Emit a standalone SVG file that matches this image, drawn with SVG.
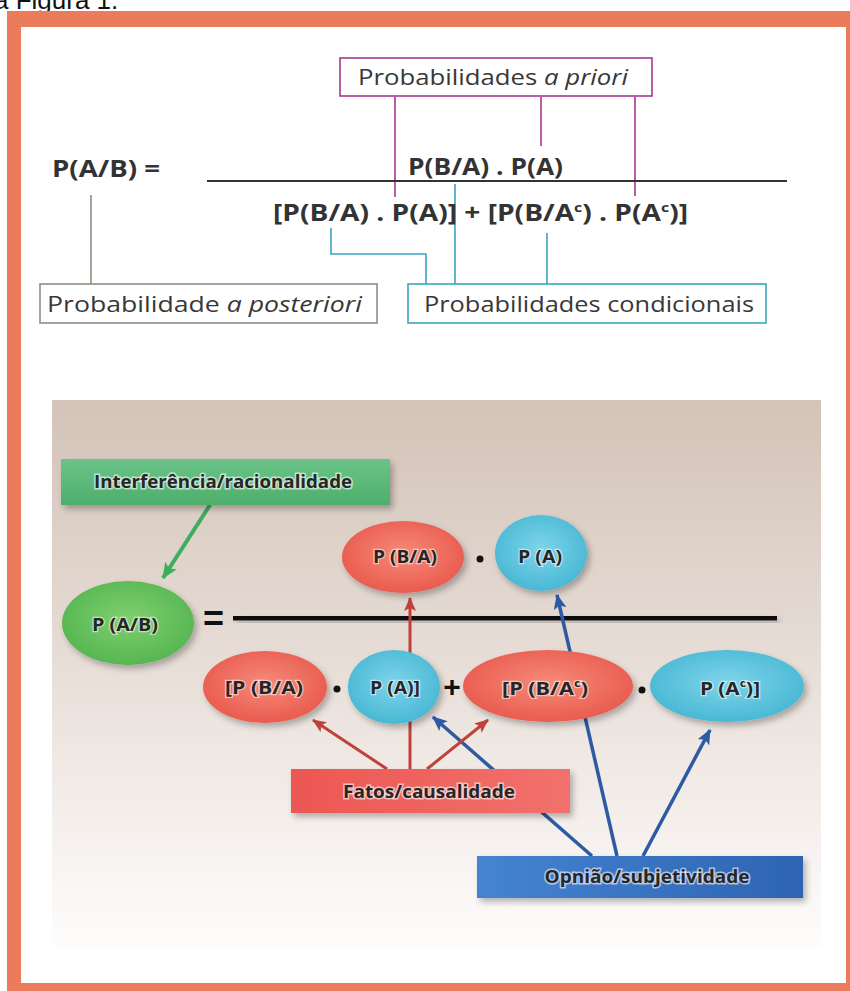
<svg xmlns="http://www.w3.org/2000/svg" width="850" height="991" viewBox="0 0 850 991">
<defs>
<style>
.hdr{font-family:"Liberation Sans",Arial,sans-serif;font-size:26px;fill:#111}
.lbl{font-family:"Open Sans","Noto Sans",sans-serif;font-size:22px;fill:#383838}
.frm{font-family:"Open Sans","Noto Sans",sans-serif;font-size:23px;font-weight:bold;fill:#333}
.it{font-style:italic}
.sup{font-size:13px}
.nt{font-family:"Open Sans","Noto Sans",sans-serif;font-weight:bold;font-size:18px;fill:#262626;stroke:#fff;stroke-width:2.5px;stroke-opacity:0.55;paint-order:stroke;text-anchor:middle}
.bt{font-family:"Open Sans","Noto Sans",sans-serif;font-weight:bold;font-size:18px;fill:#262626;stroke:#fff;stroke-width:3px;stroke-opacity:0.6;paint-order:stroke;text-anchor:middle}
.op{font-family:"Liberation Sans",Arial,sans-serif;font-weight:bold;fill:#111;text-anchor:middle}
.mag{fill:none;stroke:#A4378F;stroke-width:1.6}
.cya{fill:none;stroke:#3AA5C0;stroke-width:1.6}
.gry{fill:none;stroke:#8E8E80;stroke-width:1.6}
.ar-r{fill:none;stroke:#BE4239;stroke-width:3}
.ar-b{fill:none;stroke:#2D5AA5;stroke-width:3.5}
.ar-g{fill:none;stroke:#3CAE5C;stroke-width:4}
.red{fill:url(#gRed);filter:url(#sh)}
.cyn{fill:url(#gCyan);filter:url(#sh)}
.grn{fill:url(#gGreen);filter:url(#sh)}
</style>
<linearGradient id="gPanel" x1="0" y1="0" x2="0" y2="1">
<stop offset="0" stop-color="#D3C3B8"/>
<stop offset="0.45" stop-color="#E6DCD5"/>
<stop offset="0.8" stop-color="#F6F1EE"/>
<stop offset="1" stop-color="#FEFDFC"/>
</linearGradient>
<radialGradient id="gRed" cx="0.5" cy="0.45" r="0.6">
<stop offset="0" stop-color="#F68A79"/>
<stop offset="1" stop-color="#E8574B"/>
</radialGradient>
<radialGradient id="gCyan" cx="0.5" cy="0.45" r="0.6">
<stop offset="0" stop-color="#7DD5EA"/>
<stop offset="1" stop-color="#45B5D2"/>
</radialGradient>
<radialGradient id="gGreen" cx="0.5" cy="0.45" r="0.6">
<stop offset="0" stop-color="#80CF70"/>
<stop offset="1" stop-color="#52B44E"/>
</radialGradient>
<linearGradient id="gGBox" x1="0" y1="0" x2="0" y2="1">
<stop offset="0" stop-color="#6AC489"/>
<stop offset="1" stop-color="#4FAE6B"/>
</linearGradient>
<linearGradient id="gRBox" x1="0" y1="0" x2="1" y2="0">
<stop offset="0" stop-color="#EC5753"/>
<stop offset="1" stop-color="#F2716C"/>
</linearGradient>
<linearGradient id="gBBox" x1="0" y1="0" x2="1" y2="0">
<stop offset="0" stop-color="#4584D1"/>
<stop offset="1" stop-color="#2D64B4"/>
</linearGradient>
<filter id="sh" x="-20%" y="-20%" width="150%" height="160%">
<feDropShadow dx="3" dy="4" stdDeviation="3" flood-color="#000" flood-opacity="0.28"/>
</filter>
<marker id="mR" viewBox="0 0 14 12" markerWidth="14" markerHeight="12" refX="13" refY="6" orient="auto" markerUnits="userSpaceOnUse">
<path d="M0,0 L14,6 L0,12 L3,6 z" fill="#BE4239"/>
</marker>
<marker id="mB" viewBox="0 0 14 12" markerWidth="15" markerHeight="13" refX="13" refY="6" orient="auto" markerUnits="userSpaceOnUse">
<path d="M0,0 L14,6 L0,12 L3,6 z" fill="#2D5AA5"/>
</marker>
<marker id="mG" viewBox="0 0 14 12" markerWidth="16" markerHeight="14" refX="13" refY="6" orient="auto" markerUnits="userSpaceOnUse">
<path d="M0,0 L14,6 L0,12 L3,6 z" fill="#3CAE5C"/>
</marker>
</defs>

<rect width="850" height="991" fill="#fff"/>
<text class="hdr" x="-6" y="9">à Figura 1.</text>
<rect x="7" y="11" width="843" height="980" fill="#EC7B5C"/>
<rect x="21" y="27" width="825" height="956" fill="#FFFFFF"/>

<rect x="52" y="400" width="769" height="548" fill="url(#gPanel)"/>
<rect x="233" y="616" width="544" height="4.5" fill="#111" filter="url(#sh)"/>
<text class="op" x="213.5" y="631" font-size="36">=</text>
<text class="op" x="452" y="697" font-size="30">+</text>
<circle cx="480" cy="559" r="3.5" fill="#111"/>
<circle cx="337" cy="689" r="3.5" fill="#111"/>
<circle cx="642" cy="690" r="3.5" fill="#111"/>

<g id="connectors">
<path class="mag" d="M395,97 V197 M541,97 V146 M635,97 V196"/>
<path class="cya" d="M331,228 V254 H426 V284 M455,184 V284 M547,233 V284"/>
<path class="gry" d="M91,195 V284"/>
<line class="ar-g" x1="210" y1="505" x2="163" y2="578" marker-end="url(#mG)"/>
<line class="ar-b" x1="592" y1="856" x2="433" y2="717" marker-end="url(#mB)"/>
<line class="ar-b" x1="617" y1="856" x2="557" y2="595" marker-end="url(#mB)"/>
<line class="ar-b" x1="643" y1="856" x2="710" y2="730" marker-end="url(#mB)"/>
<line class="ar-r" x1="387" y1="769" x2="313" y2="720" marker-end="url(#mR)"/>
<line class="ar-r" x1="410" y1="769" x2="410" y2="598" marker-end="url(#mR)"/>
<line class="ar-r" x1="427" y1="769" x2="488" y2="720" marker-end="url(#mR)"/>
</g>

<g id="formula">
<text class="frm" x="52" y="177" textLength="108" lengthAdjust="spacingAndGlyphs">P(A/B)  =</text>
<line x1="207" y1="181" x2="787" y2="181" stroke="#333" stroke-width="2"/>
<text class="frm" x="408" y="175" textLength="155" lengthAdjust="spacingAndGlyphs">P(B/A) . P(A)</text>
<text class="frm" x="273" y="221" textLength="415" lengthAdjust="spacingAndGlyphs">[P(B/A) . P(A)] + [P(B/A<tspan class="sup" dy="-9">c</tspan><tspan dy="9">) . P(A</tspan><tspan class="sup" dy="-9">c</tspan><tspan dy="9">)]</tspan></text>
</g>

<g id="apriori">
<rect x="340" y="58" width="312" height="38" fill="#fff" stroke="#A4378F" stroke-width="1.6"/>
<text class="lbl" x="358" y="85" textLength="270" lengthAdjust="spacingAndGlyphs">Probabilidades <tspan class="it">a priori</tspan></text>
</g>
<g id="aposteriori">
<rect x="40" y="284" width="337" height="39" fill="#fff" stroke="#8E8E80" stroke-width="1.6"/>
<text class="lbl" x="47" y="312" textLength="315" lengthAdjust="spacingAndGlyphs">Probabilidade <tspan class="it">a posteriori</tspan></text>
</g>
<g id="condicionais">
<rect x="408" y="284" width="358" height="39" fill="#fff" stroke="#3AA5C0" stroke-width="1.6"/>
<text class="lbl" x="424" y="312" textLength="330" lengthAdjust="spacingAndGlyphs">Probabilidades condicionais</text>
</g>

<g id="interferencia">
<rect x="61" y="459" width="329" height="46" fill="url(#gGBox)" filter="url(#sh)"/>
<text class="bt" x="223" y="488" textLength="258" lengthAdjust="spacingAndGlyphs">Interferência/racionalidade</text>
</g>
<g id="pab">
<ellipse cx="128" cy="623" rx="66" ry="42" class="grn"/>
<text class="nt" x="125" y="631" textLength="66" lengthAdjust="spacingAndGlyphs">P (A/B)</text>
</g>
<g id="num-pba">
<ellipse cx="403" cy="557" rx="61" ry="36" class="red"/>
<text class="nt" x="405" y="563" textLength="64" lengthAdjust="spacingAndGlyphs">P (B/A)</text>
</g>
<g id="num-pa">
<ellipse cx="541" cy="553" rx="46" ry="38" class="cyn"/>
<text class="nt" x="540" y="563" textLength="44" lengthAdjust="spacingAndGlyphs">P (A)</text>
</g>
<g id="den-pba">
<ellipse cx="265" cy="687" rx="62" ry="36" class="red"/>
<text class="nt" x="264" y="694" textLength="78" lengthAdjust="spacingAndGlyphs">[P (B/A)</text>
</g>
<g id="den-pa">
<ellipse cx="394" cy="687" rx="46" ry="37" class="cyn"/>
<text class="nt" x="395" y="694" textLength="50" lengthAdjust="spacingAndGlyphs">P (A)]</text>
</g>
<g id="den-pbac">
<ellipse cx="548" cy="686" rx="85" ry="36" class="red"/>
<text class="nt" x="545" y="695" textLength="86" lengthAdjust="spacingAndGlyphs">[P (B/A<tspan font-size="11" dy="-8">c</tspan><tspan dy="8">)</tspan></text>
</g>
<g id="den-pac">
<ellipse cx="727" cy="686" rx="77" ry="36" class="cyn"/>
<text class="nt" x="730" y="695" textLength="60" lengthAdjust="spacingAndGlyphs">P (A<tspan font-size="11" dy="-8">c</tspan><tspan dy="8">)]</tspan></text>
</g>
<g id="fatos">
<rect x="291" y="769" width="279" height="44" fill="url(#gRBox)" filter="url(#sh)"/>
<text class="bt" x="429" y="798" textLength="172" lengthAdjust="spacingAndGlyphs">Fatos/causalidade</text>
</g>
<g id="opniao">
<rect x="477" y="856" width="326" height="42" fill="url(#gBBox)" filter="url(#sh)"/>
<text class="bt" x="647" y="883" textLength="205" lengthAdjust="spacingAndGlyphs">Opnião/subjetividade</text>
</g>
</svg>
